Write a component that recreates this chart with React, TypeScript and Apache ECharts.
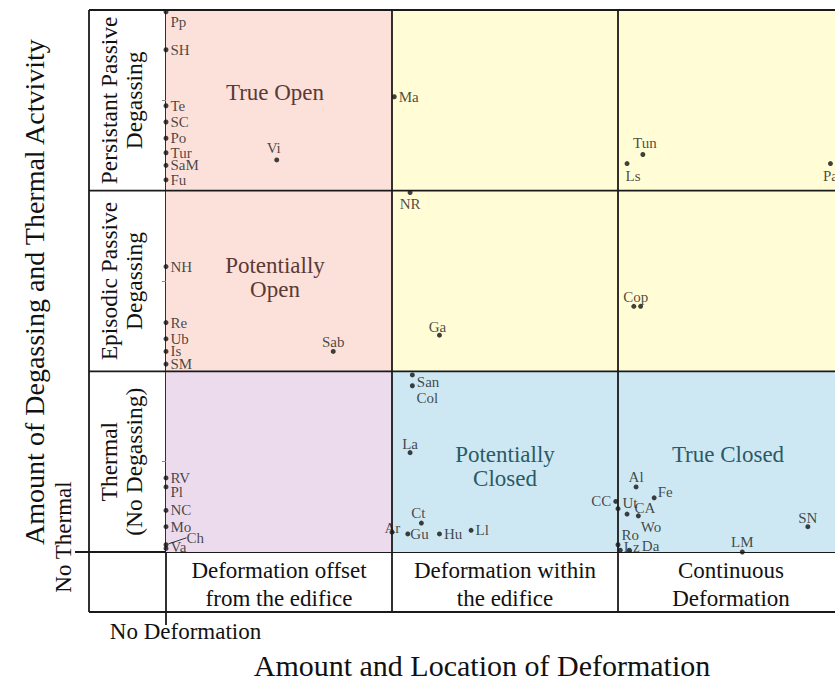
import React, { useEffect, useRef } from "react";
import * as echarts from "echarts";

const FONT = '"Liberation Serif", "Times New Roman", Times, serif';

// ---------- data ----------
const pointNames = [
  "Pp", "SH", "Te", "SC", "Po", "Tur", "SaM", "Fu", "Vi", "Ma", "Tun", "Ls", "Pa",
  "NR", "NH", "Re", "Ub", "Is", "SM", "Ga", "Cop", "", "Sab",
  "San", "Col", "La", "Ct", "Ar", "Gu", "Hu", "Ll", "CC", "Ut", "Al", "Fe", "CA", "Wo",
  "Ro", "Lz", "Da", "LM", "SN", "RV", "Pl", "NC", "Mo", "Ch", "Va",
];
const pointX = [
  0, 0, 0, 0, 0, 0, 0, 0, 0.49, 1.01, 2.11, 2.04, 2.94,
  1.08, 0, 0, 0, 0, 0, 1.21, 2.07, 2.1, 0.74,
  1.09, 1.09, 1.08, 1.13, 1.0, 1.07, 1.21, 1.35, 1.99, 2.0, 2.08, 2.16, 2.04, 2.09,
  2.0, 2.01, 2.05, 2.55, 2.84, 0, 0, 0, 0, 0, 0,
];
const pointY = [
  2.99, 2.78, 2.47, 2.38, 2.29, 2.21, 2.14, 2.06, 2.17, 2.52, 2.2, 2.15, 2.15,
  1.99, 1.58, 1.27, 1.18, 1.11, 1.04, 1.2, 1.36, 1.36, 1.11,
  0.98, 0.92, 0.55, 0.16, 0.11, 0.1, 0.1, 0.12, 0.28, 0.24, 0.36, 0.3, 0.21, 0.2,
  0.04, 0.01, 0.01, 0.0, 0.14, 0.41, 0.36, 0.23, 0.14, 0.04, 0.02,
];

const xTickValues = [0.5, 1.5, 2.5];
const xTickLabels = [
  "Deformation offset\nfrom the edifice",
  "Deformation within\nthe edifice",
  "Continuous\nDeformation",
];
const yTickValues = [0.5, 1.5, 2.5];
const yTickLabels = [
  "Thermal\n(No Degassing)",
  "Episodic Passive\nDegassing",
  "Persistant Passive\nDegassing",
];
const xOriginLabel = "No Deformation";
const yOriginLabel = "No Thermal";
const xTitle = "Amount and Location of Deformation";
const yTitle = "Amount of Degassing and Thermal Actvivity";

const cellCols = [0, 0, 0, 1, 1, 1, 2, 2, 2];
const cellRows = [0, 1, 2, 0, 1, 2, 0, 1, 2];
const cellKinds = ["thermal", "open", "open", "closed", "passive", "passive", "closed", "passive", "passive"];
const cellLabels = ["", "Potentially\nOpen", "True Open", "Potentially\nClosed", "", "", "True Closed", "", ""];

// ---------- styles ----------
const FILL: Record<string, string> = {
  thermal: "#ecdbec",
  open: "#fce1da",
  passive: "#fffcd6",
  closed: "#cde8f3",
};
const LABEL_COLOR: Record<string, string> = {
  thermal: "#5a3a35",
  open: "#5a3a35",
  passive: "#5a3a35",
  closed: "#2b5a66",
};
const CELL_LABEL_OFFSET = [[0, 0], [-4, -4], [-4, -8], [0, 5], [0, 0], [0, 0], [-3, -7], [0, 0], [0, 0]];

// label placement: [position, dx, dy]
const LABEL_PLACE: Record<string, [string, number, number]> = {
  Pp: ["right", 0, 10],
  Vi: ["top", -3, 0],
  Tun: ["top", 2, 0],
  Ls: ["bottom", 6, 0],
  Pa: ["bottom", 0, 0],
  NR: ["bottom", 0, 0],
  Ga: ["top", -2, 4],
  Cop: ["top", 2, 3],
  Sab: ["top", 0, 3],
  San: ["right", 0, 7],
  Col: ["bottom", 15, 0],
  La: ["top", 0, 3],
  Ct: ["top", -3, 2],
  Ar: ["right", -12, -4],
  Gu: ["right", -2, 0],
  CC: ["left", 0, 0],
  Ut: ["right", 0, -6],
  Al: ["top", 0, 2],
  Fe: ["right", -1, -6],
  CA: ["right", 3, -6],
  Wo: ["right", -2, 11],
  Ro: ["right", -1, -10],
  Lz: ["right", -1, -3],
  Da: ["right", 8, -4],
  LM: ["top", 0, 2],
  SN: ["top", 0, 3],
  Pl: ["right", 0, 5],
  Ch: ["right", 16, -7],
  Va: ["right", 0, -1],
};
// labels drawn with a leader line back to their point
const LEADER_LABELS = ["Ch"];

const GL = 166;
const GT = 10;
const GW = 678;
const GH = 542;
const FRAME_L = 89;
const FRAME_B = 612;
const LINE = "#1a1a1a";

export default function App() {
  const ref = useRef<HTMLDivElement>(null);

  useEffect(() => {
    document.body.style.margin = "0";
    if (!ref.current) return;
    const chart = echarts.init(ref.current, null, { renderer: "svg" });

    const right = GL + GW;
    const frameLines: number[][] = [
      [FRAME_L, GT, right, GT],
      [FRAME_L, GT, FRAME_L, FRAME_B],
      [FRAME_L, FRAME_B, right, FRAME_B],
      [FRAME_L, GT + GH / 3, right, GT + GH / 3],
      [FRAME_L, GT + (2 * GH) / 3, right, GT + (2 * GH) / 3],
      [GL + GW / 3, GT, GL + GW / 3, FRAME_B],
      [GL + (2 * GW) / 3, GT, GL + (2 * GW) / 3, FRAME_B],
    ];

    const placeOf = (n: string): [string, number, number] => LABEL_PLACE[n] || ["right", 0, 0];

    const scatterData = pointNames.map((n, i) => {
      const item: any = {
        name: n,
        value: [pointX[i], pointY[i]],
        label: { position: placeOf(n)[0] },
      };
      if (LEADER_LABELS.indexOf(n) >= 0) {
        item.labelLine = { show: true, lineStyle: { color: "#333", width: 1 } };
      }
      return item;
    });

    const areaData = cellCols.map((c, i) => [
      {
        name: cellLabels[i],
        xAxis: c,
        yAxis: cellRows[i],
        itemStyle: { color: FILL[cellKinds[i]] },
        label: { offset: CELL_LABEL_OFFSET[i], color: LABEL_COLOR[cellKinds[i]] },
      },
      { xAxis: c + 1, yAxis: cellRows[i] + 1 },
    ]);

    const halfTicks = [0, 0.5, 1, 1.5, 2, 2.5, 3];

    chart.setOption({
      animation: false,
      backgroundColor: "#ffffff",
      textStyle: { fontFamily: FONT },
      grid: {
        left: GL,
        top: GT,
        width: GW,
        height: GH,
        containLabel: false,
        outerBoundsMode: "none",
      },
      xAxis: [
        {
          type: "value",
          min: 0,
          max: 3,
          position: "bottom",
          name: xTitle,
          nameLocation: "middle",
          nameGap: 98,
          nameMoveOverlap: false,
          nameTextStyle: { fontFamily: FONT, fontSize: 30, color: "#111", padding: [0, 46, 0, 0] },
          axisLine: { show: true, lineStyle: { color: LINE, width: 1.8 } },
          axisTick: {
            show: true,
            inside: true,
            length: 4,
            customValues: [0.5, 1, 1.5, 2, 2.5],
            lineStyle: { color: "#666", width: 1 },
          },
          axisLabel: {
            show: true,
            customValues: xTickValues,
            formatter: (v: number) => xTickLabels[xTickValues.indexOf(v)] ?? "",
            margin: 4,
            fontFamily: FONT,
            fontSize: 23,
            lineHeight: 28,
            color: "#111",
          },
          splitLine: { show: false },
        },
        {
          type: "value",
          min: 0,
          max: 3,
          position: "bottom",
          axisLine: { show: false },
          axisTick: {
            show: true,
            length: 73,
            customValues: [0],
            lineStyle: { color: LINE, width: 1.8 },
          },
          axisLabel: {
            show: true,
            customValues: [0],
            formatter: () => xOriginLabel,
            margin: 68,
            fontFamily: FONT,
            fontSize: 23,
            color: "#111",
            padding: [0, 0, 0, 39],
          },
          splitLine: { show: false },
        },
        {
          type: "value",
          min: 0,
          max: 3,
          position: "top",
          axisLine: { show: false },
          axisTick: {
            show: true,
            inside: true,
            length: 4,
            customValues: [0.5, 1, 1.5, 2, 2.5],
            lineStyle: { color: "#666", width: 1 },
          },
          axisLabel: { show: false },
          splitLine: { show: false },
        },
      ],
      yAxis: [
        {
          type: "value",
          min: 0,
          max: 3,
          position: "left",
          name: yTitle,
          nameLocation: "middle",
          nameGap: 118,
          nameMoveOverlap: false,
          nameTextStyle: { fontFamily: FONT, fontSize: 28, color: "#111", padding: [0, 22, 0, 0] },
          axisLine: { show: true, lineStyle: { color: LINE, width: 1.8 } },
          axisTick: {
            show: true,
            length: 4,
            customValues: halfTicks,
            lineStyle: { color: "#888", width: 1 },
          },
          axisLabel: {
            show: true,
            customValues: yTickValues,
            formatter: (v: number) => yTickLabels[yTickValues.indexOf(v)] ?? "",
            rotate: 90,
            margin: 20,
            fontFamily: FONT,
            fontSize: 23.5,
            lineHeight: 25,
            color: "#111",
          },
          splitLine: { show: false },
        },
        {
          type: "value",
          min: 0,
          max: 3,
          position: "left",
          axisLine: { show: false },
          axisTick: {
            show: true,
            length: 91,
            customValues: [0],
            lineStyle: { color: LINE, width: 1.8 },
          },
          axisLabel: {
            show: true,
            customValues: [0],
            formatter: () => yOriginLabel,
            rotate: 90,
            margin: 91,
            fontFamily: FONT,
            fontSize: 23,
            color: "#111",
            padding: [0, 0, 0, 30],
          },
          splitLine: { show: false },
        },
      ],
      series: [
        {
          type: "scatter",
          xAxisIndex: 0,
          yAxisIndex: 0,
          symbol: "circle",
          symbolSize: 5,
          itemStyle: { color: "#111" },
          label: {
            show: true,
            formatter: "{b}",
            distance: 2,
            fontFamily: FONT,
            fontSize: 15,
            color: "#1a1a1a",
          },
          labelLayout: (params: any) => {
            const p = placeOf(pointNames[params.dataIndex]);
            return { dx: p[1], dy: p[2] };
          },
          data: scatterData,
          markArea: {
            silent: true,
            label: {
              show: true,
              position: "inside",
              fontFamily: FONT,
              fontSize: 23,
              lineHeight: 24,
            },
            data: areaData,
          },
          z: 5,
        },
      ],
      graphic: frameLines.map((l) => ({
        type: "line",
        shape: { x1: l[0], y1: l[1], x2: l[2], y2: l[3] },
        style: { stroke: LINE, lineWidth: 1.8 },
        silent: true,
        z: 100,
      })),
    });

    return () => chart.dispose();
  }, []);

  return <div ref={ref} style={{ width: 835, height: 683 }} />;
}
